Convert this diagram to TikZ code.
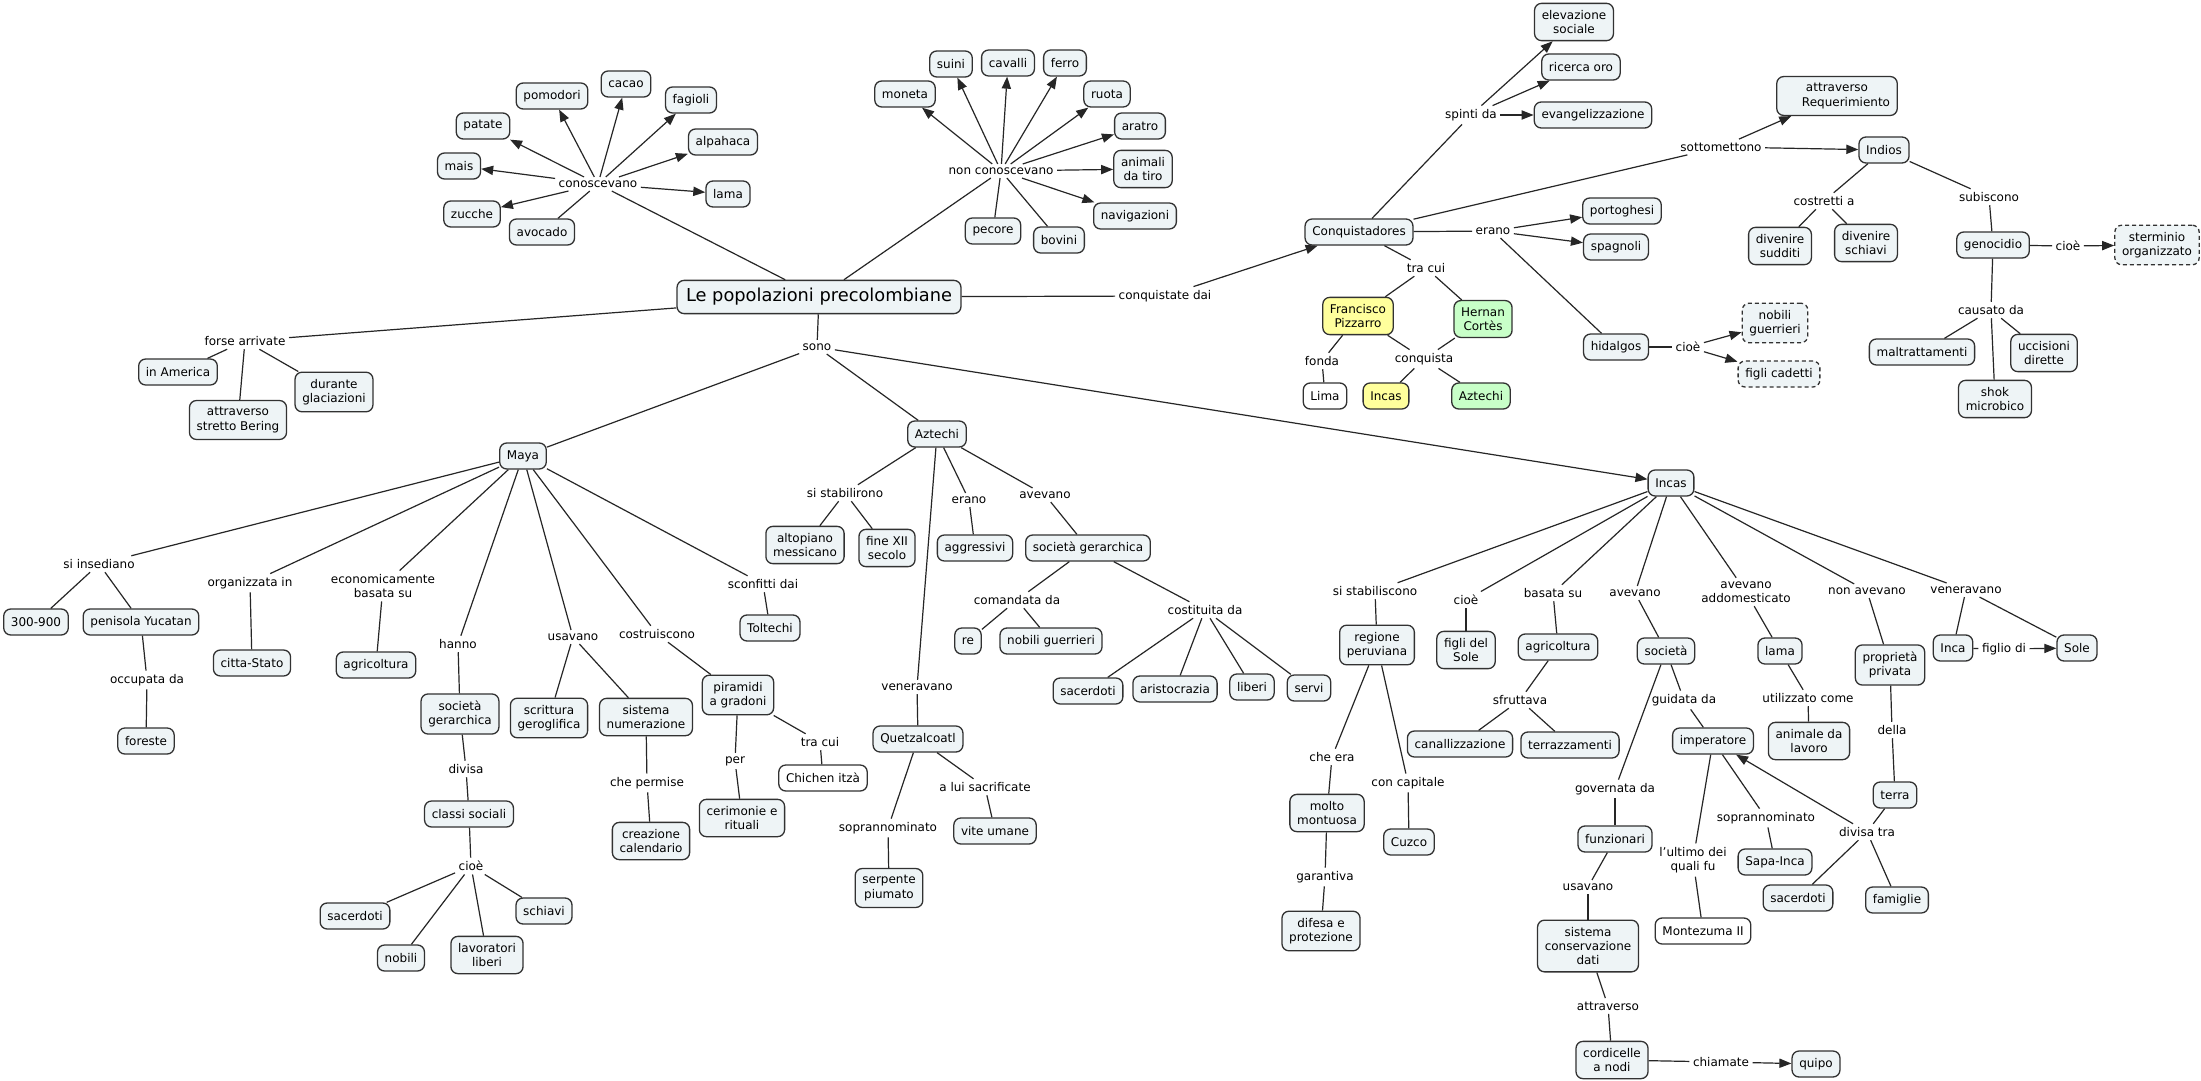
\documentclass[tikz,border=0pt]{standalone}
\usepackage{fontspec}
\setmainfont{DejaVu Sans}
\usetikzlibrary{arrows.meta}
\definecolor{boxfill}{RGB}{238,244,246}
\definecolor{yel}{RGB}{255,255,156}
\definecolor{grn}{RGB}{200,255,200}
\definecolor{bord}{RGB}{50,50,50}
\newcommand\fs{\fontsize{6}{7.2}\selectfont}
\begin{document}
\begin{tikzpicture}[x=0.5pt,y=-0.5pt,
  box/.style={draw=bord, fill=boxfill, rounded corners=3.5pt, line width=0.65pt, inner xsep=3.6pt, inner ysep=3.4pt, minimum height=13pt, align=center, font=\fs},
  ybox/.style={box, fill=yel}, gbox/.style={box, fill=grn}, wbox/.style={box, fill=white},
  dbox/.style={box, dash pattern=on 2pt off 1.5pt},
  lab/.style={inner sep=1.6pt, align=center, font=\fs},
  con/.style={draw=black!85, line width=0.6pt},
  arr/.style={con, -{Triangle[length=6pt,width=4.6pt]}},
]
\fill[white] (0,0) rectangle (2201,1081);
\useasboundingbox (0,0) rectangle (2201,1081);

% ---------- top left
\node[box, font=\fontsize{8.9}{10.7}\selectfont, inner xsep=4.5pt, inner ysep=4pt] (title) at (819,297) {Le popolazioni precolombiane};
\node[lab] (conosc) at (598,184) {conoscevano};
\node[box] (patate) at (483,126) {patate};
\node[box] (pomodori) at (552,96) {pomodori};
\node[box] (cacao) at (626,84) {cacao};
\node[box] (fagioli) at (691,100) {fagioli};
\node[box] (alpahaca) at (723,142) {alpahaca};
\node[box] (mais) at (459,166) {mais};
\node[box] (lama1) at (728,194) {lama};
\node[box] (zucche) at (472,214) {zucche};
\node[box] (avocado) at (542,232) {avocado};
\node[lab] (forse) at (245,341) {forse arrivate};
\node[box] (america) at (178,372) {in America};
\node[box] (bering) at (238,420) {attraverso\\stretto Bering};
\node[box] (glac) at (334,392) {durante\\glaciazioni};

\node[lab] (nonconosc) at (1001,171) {non conoscevano};
\node[box] (moneta) at (905,94) {moneta};
\node[box] (suini) at (951,64) {suini};
\node[box] (cavalli) at (1008,63) {cavalli};
\node[box] (ferro) at (1065,63) {ferro};
\node[box] (ruota) at (1107,94) {ruota};
\node[box] (aratro) at (1140,126) {aratro};
\node[box] (animali) at (1143,169) {animali\\da tiro};
\node[box] (navig) at (1135,216) {navigazioni};
\node[box] (bovini) at (1059,240) {bovini};
\node[box] (pecore) at (993,231) {pecore};

% ---------- conquistadores
\node[lab] (conqdai) at (1165,296) {conquistate dai};
\node[box] (conq) at (1359,232) {Conquistadores};
\node[lab] (spinti) at (1471,115) {spinti da};
\node[box] (elev) at (1574,22) {elevazione\\sociale};
\node[box] (oro) at (1581,67) {ricerca oro};
\node[box] (evang) at (1593,115) {evangelizzazione};
\node[lab] (sotto) at (1721,147) {sottomettono};
\node[box] (reque) at (1837,96) {attraverso\\\hspace*{9pt}Requerimiento};
\node[box] (indios) at (1884,150) {Indios};
\node[lab] (costretti) at (1824,201) {costretti a};
\node[lab] (subiscono) at (1989,197) {subiscono};
\node[box] (sudditi) at (1780,246) {divenire\\sudditi};
\node[box] (schiavi2) at (1866,243) {divenire\\schiavi};
\node[box] (genoc) at (1993,245) {genocidio};
\node[lab] (cioeg) at (2068,246) {cioè};
\node[dbox] (stermin) at (2157,245) {sterminio\\organizzato};
\node[lab] (causato) at (1991,310) {causato da};
\node[box] (maltr) at (1922,352) {maltrattamenti};
\node[box] (uccis) at (2044,353) {uccisioni\\dirette};
\node[box] (shok) at (1995,399) {shok\\microbico};
\node[lab] (erano1) at (1493,231) {erano};
\node[box] (portog) at (1622,211) {portoghesi};
\node[box] (spagn) at (1616,247) {spagnoli};
\node[box] (hidalgos) at (1616,347) {hidalgos};
\node[lab] (cioeh) at (1688,347) {cioè};
\node[dbox] (nobg) at (1775,323) {nobili\\guerrieri};
\node[dbox] (cadetti) at (1779,374) {figli cadetti};
\node[lab] (tracui1) at (1426,268) {tra cui};
\node[ybox] (pizz) at (1358,316) {Francisco\\Pizzarro};
\node[gbox] (cortes) at (1483,319) {Hernan\\Cortès};
\node[lab] (fonda) at (1322,361) {fonda};
\node[wbox] (lima) at (1325,396) {Lima};
\node[lab] (conquista) at (1424,359) {conquista};
\node[ybox] (incasY) at (1386,396) {Incas};
\node[gbox] (aztG) at (1481,396) {Aztechi};

% ---------- main branches
\node[lab] (sono) at (817,347) {sono};
\node[box] (maya) at (523,456) {Maya};
\node[box] (azt) at (937,434) {Aztechi};
\node[box] (incas) at (1671,483) {Incas};

% ---------- Maya
\node[lab] (insed) at (99,564) {si insediano};
\node[box] (n300) at (36,622) {300-900};
\node[box] (yucatan) at (141,622) {penisola Yucatan};
\node[lab] (occup) at (147,680) {occupata da};
\node[box] (foreste) at (146,741) {foreste};
\node[lab] (organ) at (250,583) {organizzata in};
\node[box] (citta) at (252,663) {citta-Stato};
\node[lab] (econ) at (383,586) {economicamente\\basata su};
\node[box] (agri1) at (376,665) {agricoltura};
\node[lab] (hanno) at (458,644) {hanno};
\node[box] (socger1) at (460,714) {società\\gerarchica};
\node[lab] (divisa) at (466,769) {divisa};
\node[box] (classi) at (469,814) {classi sociali};
\node[lab] (cioem) at (471,866) {cioè};
\node[box] (sacer1) at (355,916) {sacerdoti};
\node[box] (nobili) at (401,958) {nobili};
\node[box] (lavor) at (487,955) {lavoratori\\liberi};
\node[box] (schiavi) at (544,911) {schiavi};
\node[lab] (usav1) at (573,637) {usavano};
\node[box] (scritt) at (549,718) {scrittura\\geroglifica};
\node[box] (sistnum) at (646,717) {sistema\\numerazione};
\node[lab] (costr) at (657,634) {costruiscono};
\node[lab] (chepermise) at (647,783) {che permise};
\node[box] (calend) at (651,841) {creazione\\calendario};
\node[lab] (sconf) at (763,584) {sconfitti dai};
\node[box] (tolt) at (770,628) {Toltechi};
\node[box] (piram) at (738,695) {piramidi\\a gradoni};
\node[lab] (per) at (735,761) {per};
\node[box] (cerim) at (742,818) {cerimonie e\\rituali};
\node[lab] (tracui2) at (820,742) {tra cui};
\node[wbox] (chichen) at (823,778) {Chichen itzà};

% ---------- Aztechi
\node[lab] (stabilir) at (845,493) {si stabilirono};
\node[box] (altop) at (805,545) {altopiano\\messicano};
\node[box] (fineXII) at (887,548) {fine XII\\secolo};
\node[lab] (erano2) at (969,500) {erano};
\node[box] (aggr) at (975,548) {aggressivi};
\node[lab] (avev1) at (1045,495) {avevano};
\node[box] (socger2) at (1088,548) {società gerarchica};
\node[lab] (comand) at (1017,600) {comandata da};
\node[box] (re) at (968,641) {re};
\node[box] (nobg2) at (1051,641) {nobili guerrieri};
\node[lab] (costit) at (1205,610) {costituita da};
\node[box] (sacer2) at (1088,691) {sacerdoti};
\node[box] (aristo) at (1175,689) {aristocrazia};
\node[box] (liberi) at (1252,687) {liberi};
\node[box] (servi) at (1309,688) {servi};
\node[lab] (vener1) at (917,687) {veneravano};
\node[box] (quetz) at (918,739) {Quetzalcoatl};
\node[lab] (sopr1) at (888,828) {soprannominato};
\node[box] (serp) at (889,888) {serpente\\piumato};
\node[lab] (sacrif) at (985,787) {a lui sacrificate};
\node[box] (vite) at (995,831) {vite umane};

% ---------- Incas
\node[lab] (stabilisc) at (1375,591) {si stabiliscono};
\node[box] (regione) at (1377,645) {regione\\peruviana};
\node[lab] (cheera) at (1332,757) {che era};
\node[box] (montuosa) at (1327,813) {molto\\montuosa};
\node[lab] (garant) at (1325,877) {garantiva};
\node[box] (difesa) at (1321,931) {difesa e\\protezione};
\node[lab] (capitale) at (1408,783) {con capitale};
\node[box] (cuzco) at (1409,842) {Cuzco};
\node[lab] (cioei) at (1466,600) {cioè};
\node[box] (figlisole) at (1466,650) {figli del\\Sole};
\node[lab] (basata) at (1553,593) {basata su};
\node[box] (agri2) at (1558,647) {agricoltura};
\node[lab] (sfrutt) at (1520,700) {sfruttava};
\node[box] (canal) at (1460,744) {canallizzazione};
\node[box] (terraz) at (1570,745) {terrazzamenti};
\node[lab] (avev2) at (1635,593) {avevano};
\node[box] (societa) at (1666,651) {società};
\node[lab] (guidata) at (1684,700) {guidata da};
\node[box] (imper) at (1713,741) {imperatore};
\node[lab] (governata) at (1615,789) {governata da};
\node[box] (funz) at (1615,839) {funzionari};
\node[lab] (usav2) at (1588,887) {usavano};
\node[box] (sistcons) at (1588,946) {sistema\\conservazione\\dati};
\node[lab] (attrav) at (1608,1006) {attraverso};
\node[box] (cordic) at (1612,1060) {cordicelle\\a nodi};
\node[lab] (chiamate) at (1721,1062) {chiamate};
\node[box] (quipo) at (1816,1064) {quipo};
\node[lab] (ultimo) at (1693,860) {l'ultimo dei\\quali fu};
\node[wbox] (montez) at (1703,931) {Montezuma II};
\node[lab] (sopr2) at (1766,818) {soprannominato};
\node[box] (sapa) at (1775,862) {Sapa-Inca};
\node[lab] (addom) at (1746,592) {avevano\\addomesticato};
\node[box] (lama2) at (1780,651) {lama};
\node[lab] (utiliz) at (1808,698) {utilizzato come};
\node[box] (animale) at (1809,741) {animale da\\lavoro};
\node[lab] (nonavev) at (1867,591) {non avevano};
\node[box] (propr) at (1890,665) {proprietà\\privata};
\node[lab] (della) at (1892,730) {della};
\node[box] (terra) at (1895,795) {terra};
\node[lab] (divtra) at (1867,832) {divisa tra};
\node[box] (sacer3) at (1798,898) {sacerdoti};
\node[box] (famiglie) at (1897,900) {famiglie};
\node[lab] (vener2) at (1966,590) {veneravano};
\node[box] (inca) at (1953,648) {Inca};
\node[lab] (figlio) at (2004,649) {figlio di};
\node[box] (sole) at (2077,648) {Sole};

% ---------- arrows
\foreach \a/\b in {conosc/patate, conosc/pomodori, conosc/cacao, conosc/fagioli, conosc/alpahaca, conosc/mais, conosc/lama1, conosc/zucche,
  nonconosc/moneta, nonconosc/suini, nonconosc/cavalli, nonconosc/ferro, nonconosc/ruota, nonconosc/aratro, nonconosc/animali, nonconosc/navig,
  conqdai/conq, spinti/elev, spinti/oro, spinti/evang, sotto/reque, sotto/indios, erano1/portog, erano1/spagn,
  cioeh/nobg, cioeh/cadetti, cioeg/stermin, sono/incas, divtra/imper, chiamate/quipo, figlio/sole}
  \draw[arr] (\a) -- (\b);

% ---------- plain connectors
\foreach \a/\b in {conosc/avocado, title/conosc, title/nonconosc, nonconosc/pecore, nonconosc/bovini, title/conqdai, title/forse,
  forse/america, forse/bering, forse/glac, title/sono, sono/maya, sono/azt,
  conq/spinti, conq/sotto, conq/erano1, erano1/hidalgos, conq/tracui1, tracui1/pizz, tracui1/cortes, pizz/fonda, fonda/lima,
  pizz/conquista, cortes/conquista, conquista/incasY, conquista/aztG, hidalgos/cioeh, indios/costretti, costretti/sudditi,
  costretti/schiavi2, indios/subiscono, subiscono/genoc, genoc/cioeg, genoc/causato, causato/maltr, causato/uccis, causato/shok}
  \draw[con] (\a) -- (\b);
\foreach \a/\b in {maya/insed, insed/n300, insed/yucatan, yucatan/occup, occup/foreste, maya/organ, organ/citta, maya/econ, econ/agri1,
  maya/hanno, hanno/socger1, socger1/divisa, divisa/classi, classi/cioem, cioem/sacer1, cioem/nobili, cioem/lavor, cioem/schiavi,
  maya/usav1, usav1/scritt, usav1/sistnum, sistnum/chepermise, chepermise/calend, maya/costr, costr/piram, piram/per, per/cerim,
  piram/tracui2, tracui2/chichen, maya/sconf, sconf/tolt}
  \draw[con] (\a) -- (\b);
\foreach \a/\b in {azt/stabilir, stabilir/altop, stabilir/fineXII, azt/erano2, erano2/aggr, azt/avev1, avev1/socger2, socger2/comand,
  comand/re, comand/nobg2, socger2/costit, costit/sacer2, costit/aristo, costit/liberi, costit/servi, azt/vener1, vener1/quetz,
  quetz/sopr1, sopr1/serp, quetz/sacrif, sacrif/vite}
  \draw[con] (\a) -- (\b);
\foreach \a/\b in {incas/stabilisc, stabilisc/regione, regione/cheera, cheera/montuosa, montuosa/garant, garant/difesa, regione/capitale,
  capitale/cuzco, incas/cioei, cioei/figlisole, incas/basata, basata/agri2, agri2/sfrutt, sfrutt/canal, sfrutt/terraz, incas/avev2,
  avev2/societa, societa/guidata, guidata/imper, imper/sopr2, sopr2/sapa, imper/ultimo, ultimo/montez, societa/governata,
  governata/funz, funz/usav2, usav2/sistcons, sistcons/attrav, attrav/cordic, cordic/chiamate, incas/addom, addom/lama2,
  lama2/utiliz, utiliz/animale, incas/nonavev, nonavev/propr, propr/della, della/terra, terra/divtra, divtra/sacer3,
  divtra/famiglie, incas/vener2, vener2/inca, vener2/sole, inca/figlio}
  \draw[con] (\a) -- (\b);
\end{tikzpicture}
\end{document}
